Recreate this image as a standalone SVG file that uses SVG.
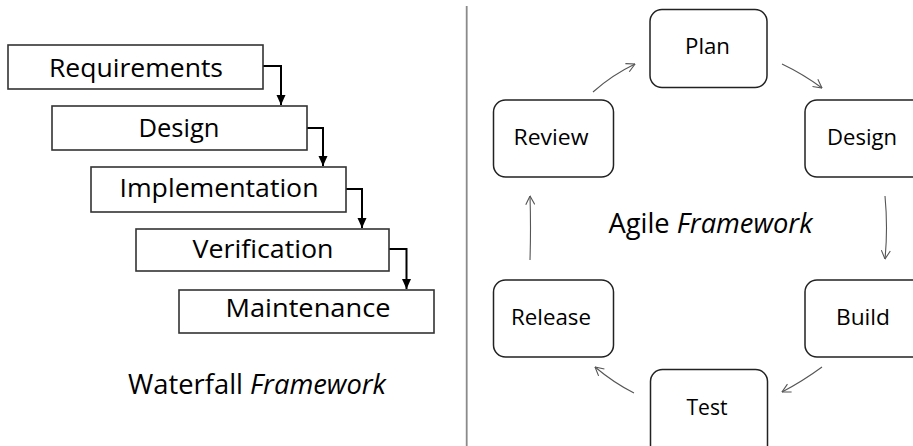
<svg xmlns="http://www.w3.org/2000/svg" width="913" height="446" viewBox="0 0 913 446">
<defs>
<style>
.wbox{fill:#fff;stroke:#333;stroke-width:1.6}
.abox{fill:#fff;stroke:#222;stroke-width:1.5}
.wt{font-family:"Open Sans","Liberation Sans",sans-serif;font-size:25.5px;fill:#000;text-anchor:middle}
.at{font-family:"Open Sans","Liberation Sans",sans-serif;font-size:22px;fill:#000;text-anchor:middle}
.lbl{font-family:"Open Sans","Liberation Sans",sans-serif;font-size:27px;fill:#000;text-anchor:middle}
.wc{fill:none;stroke:#000;stroke-width:2}
.ac{fill:none;stroke:#555;stroke-width:1.1}
</style>
<marker id="fa" viewBox="0 0 10 10" refX="10" refY="5" markerUnits="userSpaceOnUse" markerWidth="10" markerHeight="10" orient="auto">
<path d="M0,0.5 L10,5 L0,9.5 Z" fill="#000"/>
</marker>
<marker id="oa" viewBox="0 0 10 10" refX="9.5" refY="5" markerUnits="userSpaceOnUse" markerWidth="10" markerHeight="10" orient="auto">
<path d="M1,0.5 L9.5,5 L1,9.5" fill="none" stroke="#555" stroke-width="1.1"/>
</marker>
</defs>
<rect width="913" height="446" fill="#fff"/>
<line x1="466.7" y1="6" x2="466.7" y2="446" stroke="#8a8a8a" stroke-width="1.8"/>

<g id="connectors">
<path class="wc" d="M263,66 H281 V105" marker-end="url(#fa)"/>
<path class="wc" d="M307,128 H323 V166" marker-end="url(#fa)"/>
<path class="wc" d="M346,189 H362 V228" marker-end="url(#fa)"/>
<path class="wc" d="M389,249 H406.5 V289" marker-end="url(#fa)"/>
<path class="ac" d="M593,92 Q612,75 635,64" marker-end="url(#oa)"/>
<path class="ac" d="M782,64 Q803,74 822,88" marker-end="url(#oa)"/>
<path class="ac" d="M885,196 Q888,228 885,259" marker-end="url(#oa)"/>
<path class="ac" d="M822,367 Q803,381 782,392" marker-end="url(#oa)"/>
<path class="ac" d="M634,393 Q614,383 595,367" marker-end="url(#oa)"/>
<path class="ac" d="M530,260 Q531,228 530,196" marker-end="url(#oa)"/>
</g>

<g id="requirements"><rect class="wbox" x="8" y="45" width="255" height="44"/><text class="wt" x="136" y="77" textLength="174" lengthAdjust="spacingAndGlyphs">Requirements</text></g>
<g id="design"><rect class="wbox" x="52" y="106" width="255" height="44"/><text class="wt" x="179" y="137" textLength="81" lengthAdjust="spacingAndGlyphs">Design</text></g>
<g id="implementation"><rect class="wbox" x="91" y="167" width="255" height="45"/><text class="wt" x="219" y="197" textLength="199" lengthAdjust="spacingAndGlyphs">Implementation</text></g>
<g id="verification"><rect class="wbox" x="136" y="229" width="253" height="42"/><text class="wt" x="263" y="258" textLength="141" lengthAdjust="spacingAndGlyphs">Verification</text></g>
<g id="maintenance"><rect class="wbox" x="179" y="290" width="255" height="43"/><text class="wt" x="308" y="317" textLength="165" lengthAdjust="spacingAndGlyphs">Maintenance</text></g>
<g id="waterfall-label"><text class="lbl" x="257" y="394" textLength="258" lengthAdjust="spacingAndGlyphs">Waterfall <tspan font-style="italic">Framework</tspan></text></g>

<g id="plan"><rect class="abox" x="650" y="9.5" width="117" height="78" rx="12"/><text class="at" x="707.5" y="54" textLength="45" lengthAdjust="spacingAndGlyphs">Plan</text></g>
<g id="review"><rect class="abox" x="493.5" y="100" width="120" height="77" rx="12"/><text class="at" x="551" y="145" textLength="75" lengthAdjust="spacingAndGlyphs">Review</text></g>
<g id="agile-design"><rect class="abox" x="805" y="100" width="130" height="77" rx="12"/><text class="at" x="862" y="145" textLength="70" lengthAdjust="spacingAndGlyphs">Design</text></g>
<g id="build"><rect class="abox" x="805" y="280" width="130" height="77" rx="12"/><text class="at" x="863" y="325" textLength="54" lengthAdjust="spacingAndGlyphs">Build</text></g>
<g id="test"><rect class="abox" x="650.5" y="369.5" width="117" height="90" rx="12"/><text class="at" x="707" y="415" textLength="41" lengthAdjust="spacingAndGlyphs">Test</text></g>
<g id="release"><rect class="abox" x="493.5" y="280" width="120" height="77" rx="12"/><text class="at" x="551" y="325" textLength="80" lengthAdjust="spacingAndGlyphs">Release</text></g>
<g id="agile-label"><text class="lbl" x="710.5" y="233" textLength="204" lengthAdjust="spacingAndGlyphs">Agile <tspan font-style="italic">Framework</tspan></text></g>
</svg>
